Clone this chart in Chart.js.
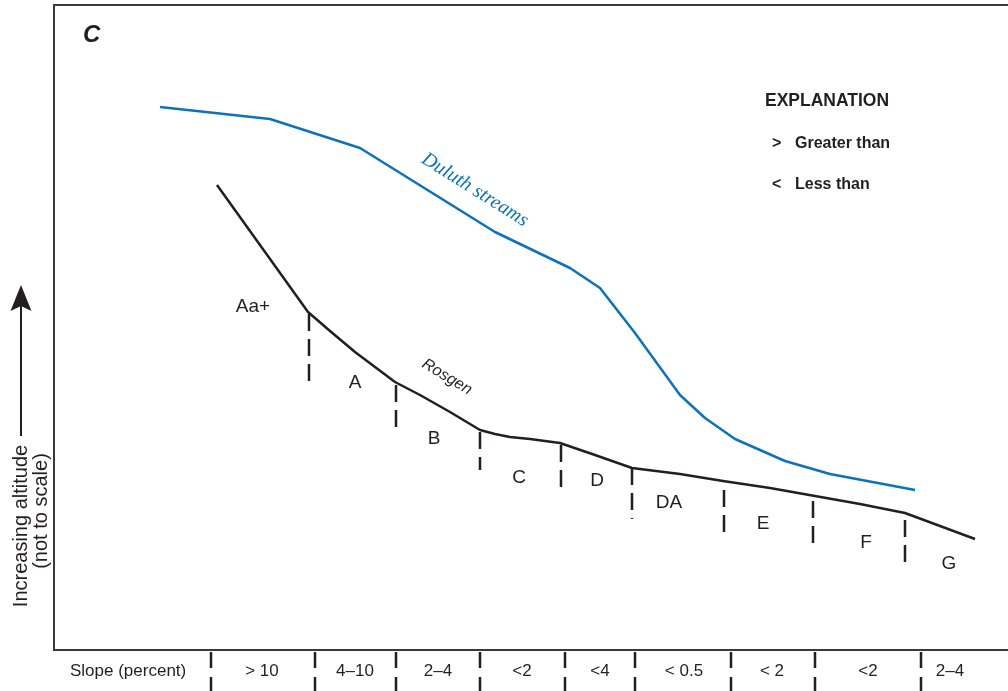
<!DOCTYPE html>
<html>
<head>
<meta charset="utf-8">
<script src="https://cdn.jsdelivr.net/npm/chart.js@4"></script>
<style>
  html, body { margin: 0; padding: 0; background: #fff; }
  #wrap { width: 1008px; height: 691px; position: relative; }
</style>
</head>
<body>
<div id="wrap"><canvas id="chart" width="1008" height="691"></canvas></div>
<script>
// Longitudinal profile: distance downstream (x) versus relative altitude (y, not to scale)
const rosgenX   = [163, 254, 276, 301, 321, 341, 366, 396, 426, 441, 456, 476, 506, 541, 578, 626, 669, 716, 761, 806, 851, 921];
const rosgenAlt = [465, 338, 319, 298, 283, 268, 255, 238, 220, 216, 213, 211, 207, 195, 182, 176, 169, 162, 154, 146, 137, 111];

const duluthX   = [106, 216, 306, 441, 516, 546, 581, 626, 651, 681, 731, 776, 861];
const duluthAlt = [543, 531, 502, 418, 382, 362, 317, 255, 232, 211, 189, 176, 160];

// Stream-type boundaries along the Rosgen profile
const typeBreakX      = [255, 342, 426, 507, 578, 670, 759, 851];
const typeBreakTop    = [336, 265, 218, 205, 182, 160, 149, 130];
const typeBreakBottom = [266, 222, 180, 163, 131, 118, 107, 88];

// Stream types
const typeNames = ['Aa+', 'A', 'B', 'C', 'D', 'DA', 'E', 'F', 'G'];
const typeX     = [199, 301, 380, 465, 543, 615, 709, 812, 895];
const typeAlt   = [343, 267, 211, 172, 169, 147, 126, 107, 86];

// Slope classes along the bottom strip
const slopeLabels = ['> 10', '4\u201310', '2\u20134', '<2', '<4', '< 0.5', '< 2', '<2', '2\u20134'];
const slopeMidX   = [208, 301, 384, 468, 546, 630, 718, 814, 896];
const slopeBreakX = [157, 261, 342, 426, 511, 581, 677, 761, 867];

const INK = '#231f20';
const BLUE = '#0b72bb';
const SANS = '"Liberation Sans", Arial, sans-serif';

const toPts = (xs, ys) => xs.map((x, i) => ({ x, y: ys[i] }));

const separatorSets = typeBreakX.map((x, i) => ({
  label: 'break' + i,
  data: [{ x, y: typeBreakTop[i] }, { x, y: typeBreakBottom[i] }],
  borderColor: INK,
  borderWidth: 2.5,
  borderDash: [17, 8],
  borderCapStyle: 'butt',
  pointRadius: 0,
  showLine: true,
  tension: 0
}));

const decor = {
  id: 'decor',
  afterDraw(chart) {
    const { ctx, chartArea: a, scales: { x: sx, y: sy } } = chart;
    ctx.save();

    // frame: left, top, bottom
    ctx.strokeStyle = '#3a3a3a';
    ctx.lineWidth = 2;
    ctx.beginPath();
    ctx.moveTo(chart.width, a.top);
    ctx.lineTo(a.left, a.top);
    ctx.lineTo(a.left, a.bottom);
    ctx.lineTo(chart.width, a.bottom);
    ctx.stroke();

    // panel letter
    ctx.fillStyle = INK;
    ctx.font = 'italic bold 24px ' + SANS;
    ctx.textAlign = 'left';
    ctx.textBaseline = 'middle';
    ctx.fillText('C', 83, 35);

    // explanation
    ctx.font = 'bold 17.5px ' + SANS;
    ctx.fillText('EXPLANATION', 765, 101);
    ctx.font = 'bold 16px ' + SANS;
    ctx.fillText('>', 772, 144);
    ctx.fillText('<', 772, 185);
    ctx.fillText('Greater than', 795, 144);
    ctx.fillText('Less than', 795, 185);

    // stream type labels
    ctx.font = '19px ' + SANS;
    ctx.textAlign = 'center';
    typeNames.forEach((t, i) => {
      ctx.fillText(t, sx.getPixelForValue(typeX[i]), sy.getPixelForValue(typeAlt[i]));
    });

    // curve labels
    ctx.save();
    ctx.translate(447, 377);
    ctx.rotate(31 * Math.PI / 180);
    ctx.font = 'italic 16px ' + SANS;
    ctx.fillText('Rosgen', 0, 0);
    ctx.restore();

    ctx.save();
    ctx.translate(475, 190);
    ctx.rotate(32 * Math.PI / 180);
    ctx.fillStyle = BLUE;
    ctx.font = 'italic 20px "Liberation Serif", "DejaVu Serif", serif';
    ctx.fillText('Duluth streams', 0, 0);
    ctx.restore();

    // vertical axis label with arrow
    ctx.save();
    ctx.translate(21, 526);
    ctx.rotate(-Math.PI / 2);
    ctx.font = '20px ' + SANS;
    ctx.fillText('Increasing altitude', 0, 0);
    ctx.fillText('(not to scale)', 15, 20);
    ctx.restore();

    ctx.strokeStyle = INK;
    ctx.lineWidth = 2;
    ctx.beginPath();
    ctx.moveTo(21, 436);
    ctx.lineTo(21, 305);
    ctx.stroke();
    ctx.fillStyle = INK;
    ctx.beginPath();
    ctx.moveTo(21, 285);
    ctx.lineTo(31.5, 311);
    ctx.lineTo(21, 306);
    ctx.lineTo(10.5, 311);
    ctx.closePath();
    ctx.fill();

    // slope strip
    const midY = 671;
    ctx.font = '17px ' + SANS;
    ctx.textAlign = 'left';
    ctx.fillText('Slope (percent)', 70, midY);
    ctx.textAlign = 'center';
    slopeLabels.forEach((t, i) => {
      ctx.fillText(t, sx.getPixelForValue(slopeMidX[i]), midY);
    });
    ctx.strokeStyle = INK;
    ctx.lineWidth = 2.5;
    slopeBreakX.forEach(v => {
      const px = Math.round(sx.getPixelForValue(v));
      ctx.beginPath();
      ctx.moveTo(px, 652); ctx.lineTo(px, 668);
      ctx.moveTo(px, 677); ctx.lineTo(px, 691);
      ctx.stroke();
    });

    ctx.restore();
  }
};

new Chart(document.getElementById('chart'), {
  type: 'scatter',
  data: {
    datasets: [
      ...separatorSets,
      {
        label: 'Rosgen',
        data: toPts(rosgenX, rosgenAlt),
        borderColor: INK,
        borderWidth: 2.5,
        pointRadius: 0,
        showLine: true,
        tension: 0,
        borderJoinStyle: 'round'
      },
      {
        label: 'Duluth streams',
        data: toPts(duluthX, duluthAlt),
        borderColor: BLUE,
        borderWidth: 2.5,
        pointRadius: 0,
        showLine: true,
        tension: 0,
        borderJoinStyle: 'round'
      }
    ]
  },
  options: {
    responsive: false,
    animation: false,
    layout: { padding: { left: 54, top: 5, right: 0, bottom: 41 } },
    scales: {
      x: { type: 'linear', min: 0, max: 954, display: false },
      y: { type: 'linear', min: 0, max: 645, display: false }
    },
    plugins: { legend: { display: false }, tooltip: { enabled: false } }
  },
  plugins: [decor]
});
</script>
</body>
</html>
